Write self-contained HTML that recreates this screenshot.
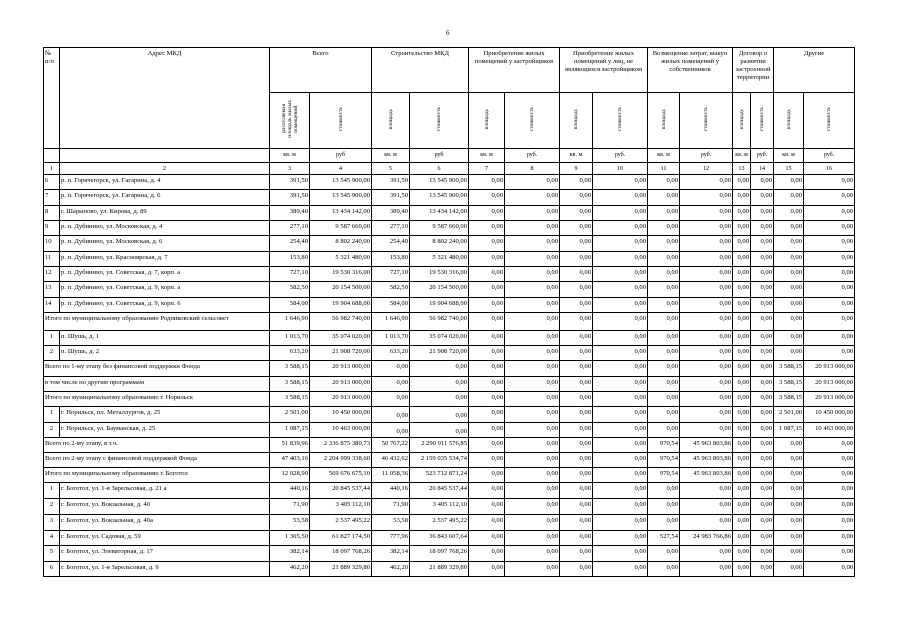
<!DOCTYPE html>
<html><head><meta charset="utf-8"><style>
body{margin:0;width:905px;height:640px;background:#fff;position:relative;overflow:hidden;font-family:"Liberation Serif","DejaVu Serif",serif;color:#000}
.pg{position:absolute;left:446px;top:29px;font-size:7px}
table{position:absolute;left:43px;top:47px;border-collapse:collapse;table-layout:fixed;width:811px;font-size:6.6px}
td{border:1px solid #000;padding:0 1px;overflow:hidden;white-space:nowrap;vertical-align:top;line-height:8px;padding-top:2px;text-align:right}
.h td{text-align:center;white-space:normal;line-height:8px}
.vc{vertical-align:middle;padding:0;height:55px}
.v{writing-mode:vertical-rl;transform:rotate(180deg);display:inline-block;font-size:5.5px;line-height:6px;white-space:nowrap;max-height:50px;overflow:hidden}
td.l{text-align:left}
td.c{text-align:center}
tr.u td{text-align:center;font-size:6px;padding-top:2px}
</style></head><body>
<div class="pg">6</div>
<table>
<colgroup><col style="width:16px"><col style="width:210px"><col style="width:40px"><col style="width:62px"><col style="width:38px"><col style="width:59px"><col style="width:36px"><col style="width:55px"><col style="width:33px"><col style="width:55px"><col style="width:32px"><col style="width:53px"><col style="width:18px"><col style="width:23px"><col style="width:30px"><col style="width:51px"></colgroup>
<tr class="h" style="height:45px"><td rowspan="2" class="l">№<br>п/п</td><td rowspan="2">Адрес МКД</td><td colspan="2">Всего</td><td colspan="2">Строительство МКД</td><td colspan="2">Приобретение жилых помещений у застройщиков</td><td colspan="2">Приобретение жилых помещений у лиц, не являющихся застройщиком</td><td colspan="2">Возмещение затрат, выкуп жилых помещений у собственников</td><td colspan="2">Договор о развитии застроенной территории</td><td colspan="2">Другие</td></tr>
<tr class="h" style="height:56px"><td class="vc"><span class="v">расселяемая<br>площадь жилых<br>помещений</span></td><td class="vc"><span class="v">стоимость</span></td><td class="vc"><span class="v">площадь</span></td><td class="vc"><span class="v">стоимость</span></td><td class="vc"><span class="v">площадь</span></td><td class="vc"><span class="v">стоимость</span></td><td class="vc"><span class="v">площадь</span></td><td class="vc"><span class="v">стоимость</span></td><td class="vc"><span class="v">площадь</span></td><td class="vc"><span class="v">стоимость</span></td><td class="vc"><span class="v">площадь</span></td><td class="vc"><span class="v">стоимость</span></td><td class="vc"><span class="v">площадь</span></td><td class="vc"><span class="v">стоимость</span></td></tr>
<tr class="u" style="height:14px"><td></td><td></td><td>кв. м</td><td>руб</td><td>кв. м</td><td>руб</td><td>кв. м</td><td>руб.</td><td>кв. м</td><td>руб.</td><td>кв. м</td><td>руб.</td><td>кв. м</td><td>руб.</td><td>кв. м</td><td>руб.</td></tr>
<tr class="u" style="height:12px"><td class="l">1</td><td>2</td><td>3</td><td>4</td><td>5</td><td>6</td><td>7</td><td>8</td><td>9</td><td>10</td><td>11</td><td>12</td><td>13</td><td>14</td><td>15</td><td>16</td></tr>
<tr style="height:15px"><td class="l">6</td><td class="l">р. п. Горячегорск, ул. Гагарина, д. 4</td><td>391,50</td><td>13 545 900,00</td><td>391,50</td><td>13 545 900,00</td><td>0,00</td><td>0,00</td><td>0,00</td><td>0,00</td><td>0,00</td><td>0,00</td><td>0,00</td><td>0,00</td><td>0,00</td><td>0,00</td></tr>
<tr style="height:16px"><td class="l">7</td><td class="l">р. п. Горячегорск, ул. Гагарина, д. 6</td><td>391,50</td><td>13 545 900,00</td><td>391,50</td><td>13 545 900,00</td><td>0,00</td><td>0,00</td><td>0,00</td><td>0,00</td><td>0,00</td><td>0,00</td><td>0,00</td><td>0,00</td><td>0,00</td><td>0,00</td></tr>
<tr style="height:15px"><td class="l">8</td><td class="l">г. Шарыпово, ул. Кирова, д. 89</td><td>389,40</td><td>13 434 142,00</td><td>389,40</td><td>13 434 142,00</td><td>0,00</td><td>0,00</td><td>0,00</td><td>0,00</td><td>0,00</td><td>0,00</td><td>0,00</td><td>0,00</td><td>0,00</td><td>0,00</td></tr>
<tr style="height:15px"><td class="l">9</td><td class="l">р. п. Дубинино, ул. Московская, д. 4</td><td>277,10</td><td>9 587 660,00</td><td>277,10</td><td>9 587 660,00</td><td>0,00</td><td>0,00</td><td>0,00</td><td>0,00</td><td>0,00</td><td>0,00</td><td>0,00</td><td>0,00</td><td>0,00</td><td>0,00</td></tr>
<tr style="height:16px"><td class="l">10</td><td class="l">р. п. Дубинино, ул. Московская, д. 6</td><td>254,40</td><td>8 802 240,00</td><td>254,40</td><td>8 802 240,00</td><td>0,00</td><td>0,00</td><td>0,00</td><td>0,00</td><td>0,00</td><td>0,00</td><td>0,00</td><td>0,00</td><td>0,00</td><td>0,00</td></tr>
<tr style="height:15px"><td class="l">11</td><td class="l">р. п. Дубинино, ул. Красноярская, д. 7</td><td>153,80</td><td>5 321 480,00</td><td>153,80</td><td>5 321 480,00</td><td>0,00</td><td>0,00</td><td>0,00</td><td>0,00</td><td>0,00</td><td>0,00</td><td>0,00</td><td>0,00</td><td>0,00</td><td>0,00</td></tr>
<tr style="height:15px"><td class="l">12</td><td class="l">р. п. Дубинино, ул. Советская, д. 7, корп. а</td><td>727,10</td><td>19 530 316,00</td><td>727,10</td><td>19 530 316,00</td><td>0,00</td><td>0,00</td><td>0,00</td><td>0,00</td><td>0,00</td><td>0,00</td><td>0,00</td><td>0,00</td><td>0,00</td><td>0,00</td></tr>
<tr style="height:16px"><td class="l">13</td><td class="l">р. п. Дубинино, ул. Советская, д. 9, корп. а</td><td>582,50</td><td>20 154 500,00</td><td>582,50</td><td>20 154 500,00</td><td>0,00</td><td>0,00</td><td>0,00</td><td>0,00</td><td>0,00</td><td>0,00</td><td>0,00</td><td>0,00</td><td>0,00</td><td>0,00</td></tr>
<tr style="height:15px"><td class="l">14</td><td class="l">р. п. Дубинино, ул. Советская, д. 9, корп. 6</td><td>584,00</td><td>19 904 688,00</td><td>584,00</td><td>19 904 688,00</td><td>0,00</td><td>0,00</td><td>0,00</td><td>0,00</td><td>0,00</td><td>0,00</td><td>0,00</td><td>0,00</td><td>0,00</td><td>0,00</td></tr>
<tr style="height:18px"><td colspan="2" class="l">Итого по муниципальному образованию Родниковский сельсовет</td><td>1 646,90</td><td>56 982 740,00</td><td>1 646,90</td><td>56 982 740,00</td><td>0,00</td><td>0,00</td><td>0,00</td><td>0,00</td><td>0,00</td><td>0,00</td><td>0,00</td><td>0,00</td><td>0,00</td><td>0,00</td></tr>
<tr style="height:15px"><td class="c">1</td><td class="l">п. Шушь, д. 1</td><td>1 013,70</td><td>35 074 020,00</td><td>1 013,70</td><td>35 074 020,00</td><td>0,00</td><td>0,00</td><td>0,00</td><td>0,00</td><td>0,00</td><td>0,00</td><td>0,00</td><td>0,00</td><td>0,00</td><td>0,00</td></tr>
<tr style="height:15px"><td class="c">2</td><td class="l">п. Шушь, д. 2</td><td>633,20</td><td>21 908 720,00</td><td>633,20</td><td>21 908 720,00</td><td>0,00</td><td>0,00</td><td>0,00</td><td>0,00</td><td>0,00</td><td>0,00</td><td>0,00</td><td>0,00</td><td>0,00</td><td>0,00</td></tr>
<tr style="height:16px"><td colspan="2" class="l">Всего по 1-му этапу без финансовой поддержки Фонда</td><td>3 588,15</td><td>20 913 000,00</td><td>0,00</td><td>0,00</td><td>0,00</td><td>0,00</td><td>0,00</td><td>0,00</td><td>0,00</td><td>0,00</td><td>0,00</td><td>0,00</td><td>3 588,15</td><td>20 913 000,00</td></tr>
<tr style="height:15px"><td colspan="2" class="l">в том числе по другим программам</td><td>3 588,15</td><td>20 913 000,00</td><td>0,00</td><td>0,00</td><td>0,00</td><td>0,00</td><td>0,00</td><td>0,00</td><td>0,00</td><td>0,00</td><td>0,00</td><td>0,00</td><td>3 588,15</td><td>20 913 000,00</td></tr>
<tr style="height:15px"><td colspan="2" class="l">Итого по муниципальному образованию г. Норильск</td><td>3 588,15</td><td>20 913 000,00</td><td>0,00</td><td>0,00</td><td>0,00</td><td>0,00</td><td>0,00</td><td>0,00</td><td>0,00</td><td>0,00</td><td>0,00</td><td>0,00</td><td>3 588,15</td><td>20 913 000,00</td></tr>
<tr style="height:16px"><td class="c">1</td><td class="l">г. Норильск, пл. Металлургов, д. 25</td><td>2 501,00</td><td>10 450 000,00</td><td style="padding-top:5px">0,00</td><td style="padding-top:5px">0,00</td><td>0,00</td><td>0,00</td><td>0,00</td><td>0,00</td><td>0,00</td><td>0,00</td><td>0,00</td><td>0,00</td><td>2 501,00</td><td>10 450 000,00</td></tr>
<tr style="height:15px"><td class="c">2</td><td class="l">г. Норильск, ул. Бауманская, д. 25</td><td>1 087,15</td><td>10 463 000,00</td><td style="padding-top:5px">0,00</td><td style="padding-top:5px">0,00</td><td>0,00</td><td>0,00</td><td>0,00</td><td>0,00</td><td>0,00</td><td>0,00</td><td>0,00</td><td>0,00</td><td>1 087,15</td><td>10 463 000,00</td></tr>
<tr style="height:15px"><td colspan="2" class="l">Всего по 2-му этапу, в т.ч.</td><td>51 839,96</td><td>2 336 875 380,73</td><td>50 767,22</td><td>2 290 911 576,85</td><td>0,00</td><td>0,00</td><td>0,00</td><td>0,00</td><td>970,54</td><td>45 963 803,86</td><td>0,00</td><td>0,00</td><td>0,00</td><td>0,00</td></tr>
<tr style="height:15px"><td colspan="2" class="l">Всего по 2-му этапу с финансовой поддержкой Фонда</td><td>47 403,16</td><td>2 204 999 338,60</td><td>46 432,62</td><td>2 159 035 534,74</td><td>0,00</td><td>0,00</td><td>0,00</td><td>0,00</td><td>970,54</td><td>45 963 803,86</td><td>0,00</td><td>0,00</td><td>0,00</td><td>0,00</td></tr>
<tr style="height:15px"><td colspan="2" class="l">Итого по муниципальному образованию г. Боготол</td><td>12 028,90</td><td>569 676 675,10</td><td>11 058,36</td><td>523 712 871,24</td><td>0,00</td><td>0,00</td><td>0,00</td><td>0,00</td><td>970,54</td><td>45 963 803,86</td><td>0,00</td><td>0,00</td><td>0,00</td><td>0,00</td></tr>
<tr style="height:16px"><td class="c">1</td><td class="l">г. Боготол, ул. 1-я Зарельсовая, д. 21 а</td><td>440,16</td><td>20 845 537,44</td><td>440,16</td><td>20 845 537,44</td><td>0,00</td><td>0,00</td><td>0,00</td><td>0,00</td><td>0,00</td><td>0,00</td><td>0,00</td><td>0,00</td><td>0,00</td><td>0,00</td></tr>
<tr style="height:16px"><td class="c">2</td><td class="l">г. Боготол, ул. Вокзальная, д. 40</td><td>71,90</td><td>3 405 112,10</td><td>71,90</td><td>3 405 112,10</td><td>0,00</td><td>0,00</td><td>0,00</td><td>0,00</td><td>0,00</td><td>0,00</td><td>0,00</td><td>0,00</td><td>0,00</td><td>0,00</td></tr>
<tr style="height:16px"><td class="c">3</td><td class="l">г. Боготол, ул. Вокзальная, д. 40а</td><td>53,58</td><td>2 537 495,22</td><td>53,58</td><td>2 537 495,22</td><td>0,00</td><td>0,00</td><td>0,00</td><td>0,00</td><td>0,00</td><td>0,00</td><td>0,00</td><td>0,00</td><td>0,00</td><td>0,00</td></tr>
<tr style="height:15px"><td class="c">4</td><td class="l">г. Боготол, ул. Садовая, д. 59</td><td>1 305,50</td><td>61 827 174,50</td><td>777,96</td><td>36 843 607,64</td><td>0,00</td><td>0,00</td><td>0,00</td><td>0,00</td><td>527,54</td><td>24 983 766,86</td><td>0,00</td><td>0,00</td><td>0,00</td><td>0,00</td></tr>
<tr style="height:16px"><td class="c">5</td><td class="l">г. Боготол, ул. Элеваторная, д. 17</td><td>382,14</td><td>18 097 768,26</td><td>382,14</td><td>18 097 768,26</td><td>0,00</td><td>0,00</td><td>0,00</td><td>0,00</td><td>0,00</td><td>0,00</td><td>0,00</td><td>0,00</td><td>0,00</td><td>0,00</td></tr>
<tr style="height:15px"><td class="c">6</td><td class="l">г. Боготол, ул. 1-я Зарельсовая, д. 9</td><td>462,20</td><td>21 889 329,80</td><td>462,20</td><td>21 889 329,80</td><td>0,00</td><td>0,00</td><td>0,00</td><td>0,00</td><td>0,00</td><td>0,00</td><td>0,00</td><td>0,00</td><td>0,00</td><td>0,00</td></tr>
</table>
</body></html>
